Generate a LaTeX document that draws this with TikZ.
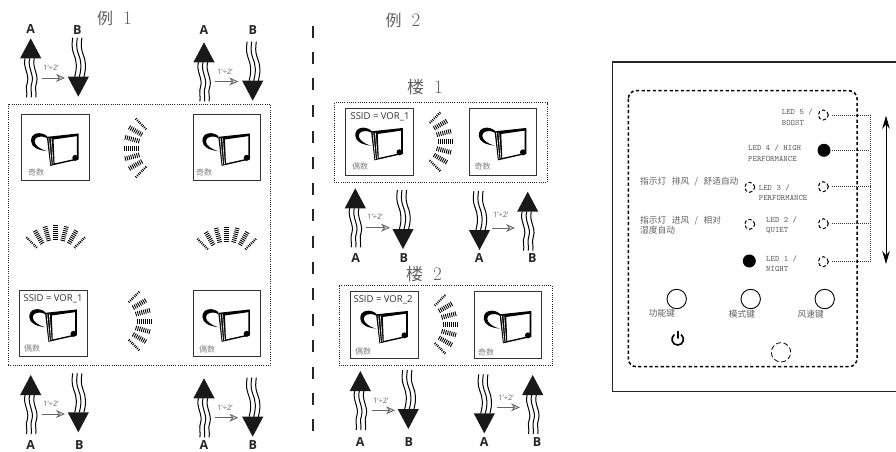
\documentclass[tikz,border=0pt]{standalone}
\usepackage{fontspec}
\setsansfont{Open Sans}
\newfontfamily\cjk{Noto Sans CJK SC}
\usetikzlibrary{arrows.meta}
\definecolor{labelgray}{HTML}{606060}
\newcommand{\cjkgap}{\hspace{5.5pt}}
\tikzset{
    unitbox/.style={draw=black!80, line width=0.9, minimum width=67.5, minimum height=66.7, inner sep=0, outer sep=0},
    zonebox/.style={draw=black!85, line width=0.8, dash pattern=on 1 off 1.2},
    flowname/.style={font=\sffamily\bfseries\fontsize{12.5}{13}\selectfont, text=black!85, inner sep=0, text height=8.9, text depth=0},
    ratetext/.style={font=\sffamily\fontsize{7.4}{8}\selectfont, text=labelgray, inner sep=0},
    mixarrow/.style={draw=black!60, line width=0.8, -{Stealth[length=9, width=8, open, fill=black!20]}},
    ssidtext/.style={font=\sffamily\fontsize{9.5}{11}\selectfont, text=black!80, inner sep=0},
    paritytext/.style={font=\cjk\fontsize{8}{9}\selectfont, text=black!50, inner sep=0},
    titletext/.style={font=\fontsize{19}{21}\selectfont, text=labelgray, inner sep=0},
    ledtext/.style={font=\ttfamily\fontsize{8.3}{10.5}\selectfont, text=labelgray, inner sep=0, anchor=west, align=left},
    cjktext/.style={font=\cjk\fontsize{8.7}{10.2}\selectfont, text=labelgray, inner sep=0},
    ledoff/.style={circle, draw=black, line width=1, dash pattern=on 3.4 off 2.2, minimum size=10, inner sep=0},
    ledon/.style={circle, fill=black, minimum size=13, inner sep=0},
    keybtn/.style={circle, draw=black, line width=0.9, minimum size=19.4, inner sep=0},
    ledwire/.style={draw=black!80, line width=0.8, dash pattern=on 1 off 1, shorten <=8.4},
    pics/upflow/.style={code={
        \fill[black!90] (0,0) -- (10.6,20) -- (-10.6,20) -- cycle;
        \foreach \d in {-4.6,0,4.6}{
            \draw[line width=1] (\d-1,20) .. controls (\d-3.5,29) and (\d+3.5,36) .. (\d+1.3,44) .. controls (\d-1,50) and (\d+1.5,54) .. (\d+0.5,59);
        }
    }},
    pics/downflow/.style={code={
        \fill[black!90] (0,0) -- (10.6,-20) -- (-10.6,-20) -- cycle;
        \foreach \d in {-4.6,0,4.6}{
            \draw[line width=1] (\d+1,-20) .. controls (\d+3.5,-29) and (\d+3,-36) .. (\d,-43) .. controls (\d-2.5,-50) and (\d-1.5,-54) .. (\d-1,-59);
        }
    }},
    pics/fan/.style={code={
        \foreach \ang/\wid in {-45/2.2,-30/4.6,-15/4.6,0/5,15/4.6,30/4.6,45/2.2}{
            \draw[line width=\wid, dash pattern=on 0.9 off 1.1] (\ang+#1:26.5) -- (\ang+#1:41.5);
        }
    }},
    pics/device/.style={code={
        % loop handle
        \fill (25.5,22) .. controls (20,17) and (9,18) .. (9.5,27) .. controls (10,33) and (16,36) .. (25.5,37) .. controls (18,35) and (13,31) .. (13,27) .. controls (13,23) and (19,20.5) .. (25.5,24) -- cycle;
        % case and front
        \fill[even odd rule] (25.3,22.7) -- (57,19.3) -- (57,45.3) -- (28.7,51.7) -- cycle (32,25.3) -- (55.3,22) -- (55.3,44.3) -- (33,49.3) -- cycle;
        \draw[white, line width=0.6] (27.2,24) -- (29.8,50.5);
        \draw[white, line width=0.6] (29.6,24) -- (31.6,50);
        \fill (53.7,43.7) circle (3);
    }},
}
\begin{document}
\begin{tikzpicture}[x=1pt, y=-1pt]
    \useasboundingbox (0,0) rectangle (896,451);

    % titles
    \node[titletext] (titleA) at (114.5,18.5) {{\cjk\fontsize{16}{18}\selectfont 例}\hspace{10pt}1};
    \node[titletext] (titleB) at (403,20) {{\cjk\fontsize{16}{18}\selectfont 例}\hspace{10pt}2};
    \node[titletext] (floorA) at (425,87) {{\cjk\fontsize{17}{19}\selectfont 楼}\hspace{10pt}1};
    \node[titletext] (floorB) at (424,274) {{\cjk\fontsize{17}{19}\selectfont 楼}\hspace{10pt}2};

    % separator
    \coordinate (sepTop) at (313,26);
    \coordinate (sepEnd) at (313,434);
    \draw[line width=2, black!85, dash pattern=on 12 off 14.2] (sepTop) -- (sepEnd);

    % zones
    \draw[zonebox] (8,104) rectangle (270,365.7);
    \draw[zonebox] (334.3,102.7) rectangle (547.3,182.3);
    \draw[zonebox] (339.3,285.7) rectangle (552.3,365.7);

    % units
    \foreach \name/\x/\y in {unitA/55.3/147.5, unitB/226.7/147.5, unitC/53.5/323.5, unitD/226.7/323.5, unitE/379.5/142, unitF/503/142, unitG/384.5/325, unitH/508/325}{
        \node[unitbox] (\name) at (\x,\y) {};
        \pic at (\name.north west) {device};
    }
    \node[paritytext] (oddA) at (36,172) {奇数};
    \node[paritytext] (oddB) at (204,172) {奇数};
    \node[paritytext] (evenC) at (32,348) {偶数};
    \node[paritytext] (evenD) at (207,349) {偶数};
    \node[paritytext] (evenE) at (360,166) {偶数};
    \node[paritytext] (oddF) at (482.7,166) {奇数};
    \node[paritytext] (evenG) at (363,351) {偶数};
    \node[paritytext] (oddH) at (486,352) {奇数};
    \node[ssidtext] (ssidC) at (53,299) {SSID = VOR\_1};
    \node[ssidtext] (ssidE) at (380,117) {SSID = VOR\_1};
    \node[ssidtext] (ssidG) at (383,300) {SSID = VOR\_2};

    % wave fans
    \pic at (165,148) {fan=180};
    \pic at (110,321) {fan=0};
    \pic at (55.7,266.5) {fan=270};
    \pic at (226.7,268) {fan=270};
    \pic at (411,141.7) {fan=0};
    \pic at (416,324.3) {fan=0};

    % air flows
    \foreach \x/\y in {30.7/38.3, 204/42.3, 30.7/375, 204/378.3, 355.3/188.3, 527.7/191.7, 360.3/371, 532.7/375}{
        \pic at (\x,\y) {upflow};
    }
    \foreach \x/\y in {78.3/96.7, 252.7/100.7, 78.3/432.3, 252.7/436.7, 403/249, 479.5/250, 408.3/429, 484.3/433.3}{
        \pic at (\x,\y) {downflow};
    }
    \foreach \name/\x/\y/\txt in {nameA/30.7/29.5/A, nameB/77.3/30/B, nameC/204/30/A, nameD/252.7/30/B, nameE/30.7/445/A, nameF/79.3/445/B, nameG/204/445/A, nameH/252.7/445/B, nameI/355.7/258/A, nameJ/403.7/258/B, nameK/479.3/258/A, nameL/532.3/258/B, nameM/360.3/441.7/A, nameN/408.7/441.7/B, nameO/484.3/441.7/A, nameP/537/441.7/B}{
        \node[flowname] (\name) at (\x,\y) {\txt};
    }
    \foreach \i/\xa/\xb/\y/\lx/\ly in {1/41.7/65/78/51/68, 2/215/238.3/81.5/225/72, 3/41.7/65/414/51/404, 4/215/238.3/417.7/225/407.7, 5/366/390/227.7/375/217.3, 6/491.7/515/228/500.7/215, 7/371.7/395/410.3/380.7/401, 8/496.7/520/407.3/506/398.3}{
        \coordinate (mixS\i) at (\xa,\y);
        \coordinate (mixE\i) at (\xb,\y);
        \draw[mixarrow] (mixS\i) -- (mixE\i);
        \node[ratetext] (rate\i) at (\lx,\ly) {1'÷2'};
    }

    % control panel
    \draw[line width=1.2, black!85] (896,62) -- (612.7,62) -- (612.7,391.7) -- (896,391.7);
    \draw[line width=1.5, dash pattern=on 3.2 off 2.4, rounded corners=8] (628.3,90.7) rectangle (857,366.7);

    % leds
    \node[ledoff] (ledE) at (823.3,115) {};
    \node[ledon] (ledD) at (824,150.3) {};
    \node[ledoff] (ledC) at (823.3,186.7) {};
    \node[ledoff] (ledB) at (823.3,223.7) {};
    \node[ledoff] (ledA) at (823.3,261.7) {};
    \node[ledoff] (ledExh) at (749.7,187.3) {};
    \node[ledoff] (ledSup) at (749.7,224.3) {};
    \node[ledon] (ledNight) at (749.3,261) {};
    \coordinate (busTop) at (870,115);
    \coordinate (busD) at (870,150.3);
    \coordinate (busC) at (870,186.7);
    \coordinate (busB) at (870,223.7);
    \coordinate (busEnd) at (870,261.7);
    \draw[ledwire] (ledE.center) -- (busTop);
    \draw[ledwire] (ledD.center) -- (busD);
    \draw[ledwire] (ledC.center) -- (busC);
    \draw[ledwire] (ledB.center) -- (busB);
    \draw[ledwire] (ledA.center) -- (busEnd);
    \draw[ledwire, shorten <=0] (busTop) -- (busEnd);
    \coordinate (speedUp) at (886,115.7);
    \coordinate (speedDown) at (886,264);
    \draw[line width=1, {Stealth[length=13, width=7.5]}-{Stealth[length=13, width=7.5]}] (speedUp) -- (speedDown);

    % led texts
    \node[ledtext] (textE) at (781.7,117.2) {LED 5 /\\BOOST};
    \node[ledtext] (textD) at (748,153.2) {LED 4 / HIGH\\PERFORMANCE};
    \node[ledtext] (textC) at (758.7,192.5) {LED 3 /\\PERFORMANCE};
    \node[ledtext] (textB) at (766,225) {LED 2 /\\QUIET};
    \node[ledtext] (textA) at (766,263.7) {LED 1 /\\NIGHT};
    \node[cjktext, anchor=west] (textExh) at (640,181.3) {指示灯\cjkgap 排风\cjkgap/\cjkgap 舒适自动};
    \node[cjktext, anchor=west, align=left] (textSup) at (640,225) {指示灯\cjkgap 进风\cjkgap/\cjkgap 相对\\湿度自动};

    % keys
    \node[keybtn] (keyF) at (676.7,299) {};
    \node[keybtn] (keyM) at (750.7,299) {};
    \node[keybtn] (keyS) at (824.7,299) {};
    \node[keybtn, line width=0.8, dash pattern=on 5 off 2.6] (sensor) at (781,352.3) {};
    \node[cjktext] (labelF) at (662,313.3) {功能键};
    \node[cjktext] (labelM) at (742,314) {模式键};
    \node[cjktext] (labelS) at (810.7,314) {风速键};

    % power symbol
    \draw[line width=1.6, line cap=round] (677.7,331.5) -- (677.7,338);
    \draw[line width=1.6] (674.3,334.5) .. controls (670,338) and (672,345) .. (677.7,345) .. controls (683.4,345) and (685.4,338) .. (681.1,334.5);
\end{tikzpicture}
\end{document}
